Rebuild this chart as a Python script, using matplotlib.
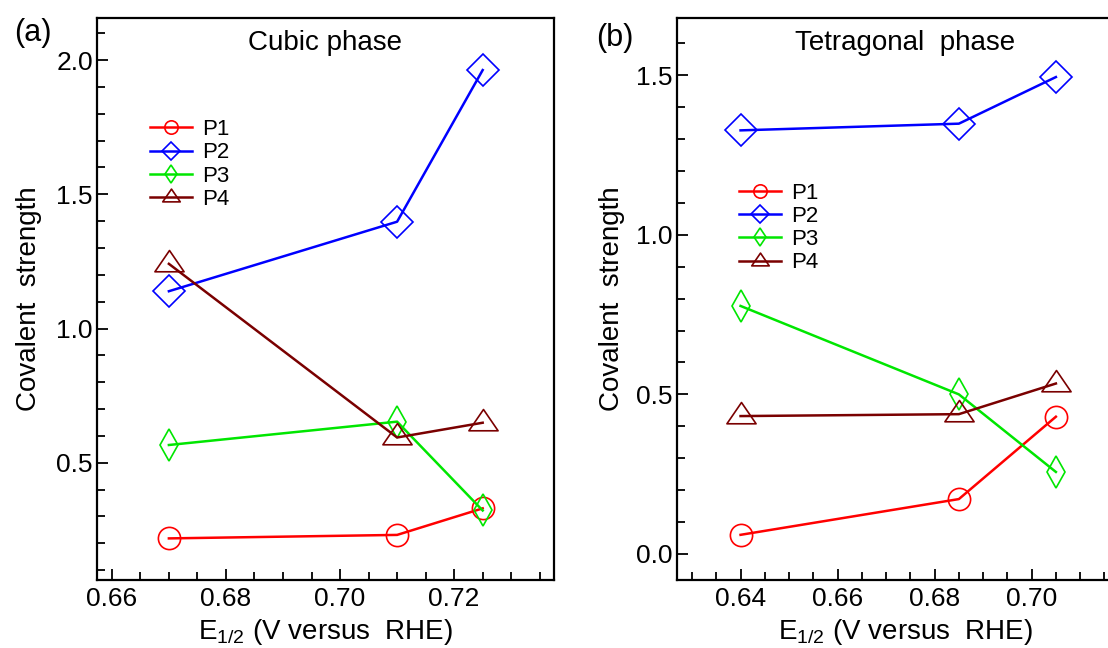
import numpy as np
import matplotlib
matplotlib.use("Agg")
import matplotlib.pyplot as plt
from matplotlib.path import Path
from matplotlib.ticker import MultipleLocator, FixedLocator, FormatStrFormatter

plt.rcParams['font.family'] = ['Liberation Sans', 'DejaVu Sans']
plt.rcParams['mathtext.fontset'] = 'custom'
plt.rcParams['mathtext.rm'] = 'Liberation Sans'
plt.rcParams['mathtext.it'] = 'Liberation Sans:italic'

# Data
series = ['P1', 'P2', 'P3', 'P4']

cubic_x = [0.67, 0.71, 0.725]
cubic_p1 = [0.218, 0.231, 0.330]
cubic_p2 = [1.139, 1.398, 1.963]
cubic_p3 = [0.566, 0.653, 0.322]
cubic_p4 = [1.241, 0.594, 0.649]
cubic_xticks = [0.66, 0.68, 0.70, 0.72]

tetra_x = [0.64, 0.685, 0.705]
tetra_p1 = [0.060, 0.172, 0.430]
tetra_p2 = [1.327, 1.348, 1.494]
tetra_p3 = [0.777, 0.500, 0.257]
tetra_p4 = [0.432, 0.438, 0.534]
tetra_xticks = [0.64, 0.66, 0.68, 0.70]

# Styles
colors = ['#ff0000', '#0000ff', '#00e600', '#7a0000']
tri = Path([(0, 0.96), (-1, -0.5), (1, -0.5), (0, 0.96)], closed=True)
markers = ['o', 'D', 'd', tri]
msizes = [16, 16, 16, 21]

fig = plt.figure(figsize=(11.08, 6.48), dpi=100)
ax1 = fig.add_axes([97 / 1108, 1 - 580 / 648, 457 / 1108, 562 / 648])
ax2 = fig.add_axes([677 / 1108, 1 - 580 / 648, 457 / 1108, 562 / 648])


def draw(ax, x, ys, title, legend_xy, xticks):
    for y, c, m, ms, lab in zip(ys, colors, markers, msizes, series):
        ax.plot(x, y, color=c, lw=1.8, marker=m, ms=ms, mfc='none',
                mec=c, mew=1.2, label=lab)
    ax.text(0.5, 0.978, title, transform=ax.transAxes, ha='center',
            va='top', fontsize=20)
    ax.legend(loc='upper left', bbox_to_anchor=legend_xy, frameon=False,
              fontsize=16, markerscale=0.6, handlelength=1.9,
              handletextpad=0.45, labelspacing=0.1, borderpad=0,
              borderaxespad=0)
    ax.xaxis.set_major_locator(FixedLocator(xticks))
    ax.xaxis.set_minor_locator(MultipleLocator(0.005))
    ax.xaxis.set_major_formatter(FormatStrFormatter('%.2f'))
    ax.yaxis.set_major_locator(MultipleLocator(0.5))
    ax.yaxis.set_minor_locator(MultipleLocator(0.1))
    ax.yaxis.set_major_formatter(FormatStrFormatter('%.1f'))
    ax.tick_params(which='both', direction='in', top=False, right=False,
                   labelsize=19, width=1.3)
    ax.tick_params(axis='x', which='both', pad=5)
    ax.tick_params(axis='y', which='both', pad=3)
    ax.tick_params(which='major', length=8)
    ax.tick_params(which='minor', length=6)
    for s in ax.spines.values():
        s.set_linewidth(1.6)
    ax.set_xlabel(r'E$_{\mathregular{1/2}}$ (V versus  RHE)', fontsize=20,
                  va='center')
    ax.set_ylabel('Covalent  strength', fontsize=20, va='center')
    ax.xaxis.set_label_coords(0.5, -0.0925)


draw(ax1, cubic_x, [cubic_p1, cubic_p2, cubic_p3, cubic_p4],
     'Cubic phase', (0.116, 0.82), cubic_xticks)
ax1.set_xlim(0.6574, 0.7375)
ax1.set_ylim(0.063, 2.157)
ax1.yaxis.set_label_coords(-0.149, 0.5)

draw(ax2, tetra_x, [tetra_p1, tetra_p2, tetra_p3, tetra_p4],
     'Tetragonal  phase', (0.136, 0.707), tetra_xticks)
ax2.set_xlim(0.6269, 0.7211)
ax2.set_ylim(-0.0815, 1.679)
ax2.yaxis.set_label_coords(-0.142, 0.5)

fig.text(33 / 1108, 1 - 33 / 648, '(a)', fontsize=22, ha='center', va='center')
fig.text(615 / 1108, 1 - 38 / 648, '(b)', fontsize=22, ha='center', va='center')

fig.savefig('out.png', dpi=100)
